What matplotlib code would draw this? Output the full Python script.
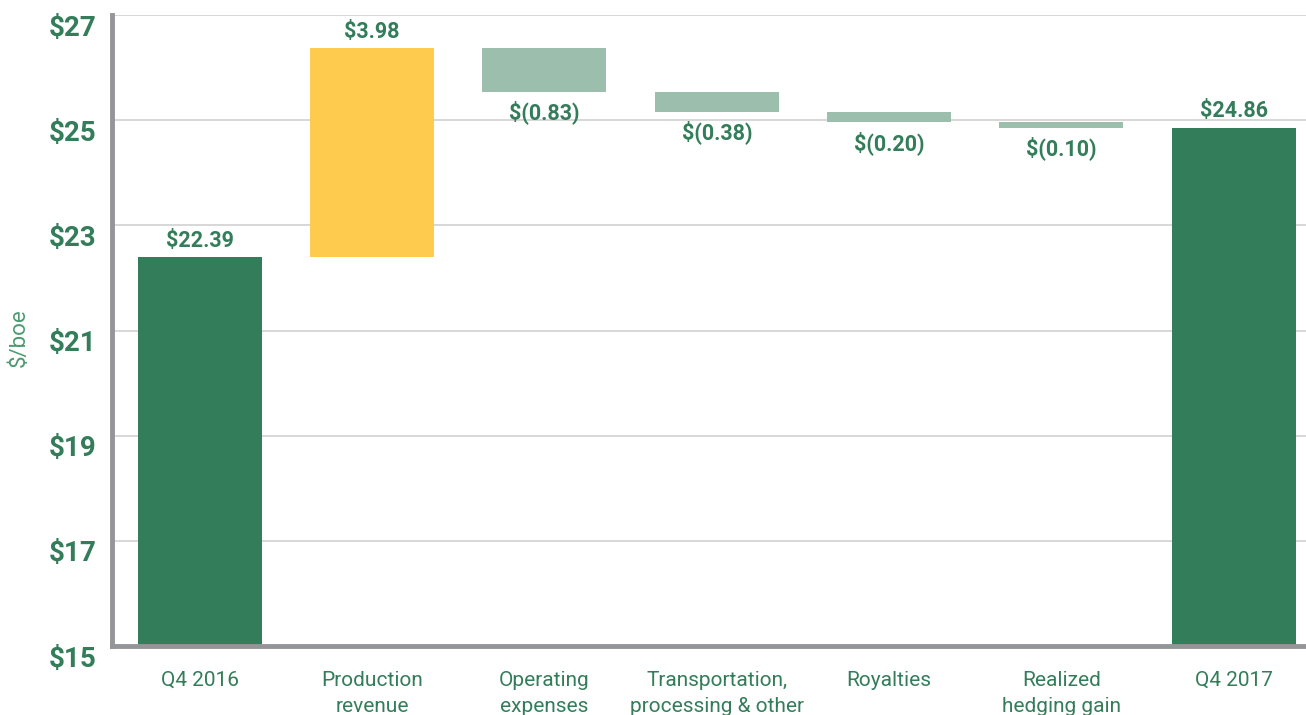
import matplotlib
matplotlib.use("Agg")
import matplotlib.pyplot as plt
from matplotlib.transforms import ScaledTranslation

categories = ["Q4 2016", "Production\nrevenue", "Operating\nexpenses",
              "Transportation,\nprocessing & other", "Royalties",
              "Realized\nhedging gain", "Q4 2017"]
start_value = 22.39
changes = [3.98, -0.83, -0.38, -0.20, -0.10]
end_value = 24.86
y_ticks = [15, 17, 19, 21, 23, 25, 27]
y_tick_labels = ["$15", "$17", "$19", "$21", "$23", "$25", "$27"]

DARK = "#347d5a"
LIGHT = "#9bbfac"
YELLOW = "#ffcb4f"
TEXT = "#347d5a"

plt.rcParams['font.family'] = ['Roboto', 'DejaVu Sans']

fig = plt.figure(figsize=(13.06, 7.15), dpi=100)
ax = fig.add_axes([112/1306, 1-646/715, 1-112/1306, (646-15)/715])

ymin = y_ticks[0]
width = 0.72
VFS = 15.5
# totals
ax.bar(0, start_value - ymin, bottom=ymin, width=width, color=DARK, zorder=3)
ax.bar(len(categories)-1, end_value - ymin, bottom=ymin, width=width, color=DARK, zorder=3)
ax.annotate(f"${start_value:.2f}", (0, start_value), xytext=(0, 4), textcoords="offset points",
            ha="center", va="bottom", fontsize=VFS, fontweight="bold", color=TEXT)
ax.annotate(f"${end_value:.2f}", (len(categories)-1, end_value), xytext=(0, 4), textcoords="offset points",
            ha="center", va="bottom", fontsize=VFS, fontweight="bold", color=TEXT)

level = start_value
for i, c in enumerate(changes, start=1):
    lo, hi = (level, level + c) if c >= 0 else (level + c, level)
    ax.bar(i, hi - lo, bottom=lo, width=width, color=YELLOW if c >= 0 else LIGHT, zorder=3)
    if c >= 0:
        ax.annotate(f"${c:.2f}", (i, hi), xytext=(0, 4), textcoords="offset points",
                    ha="center", va="bottom", fontsize=VFS, fontweight="bold", color=TEXT)
    else:
        ax.annotate(f"$({abs(c):.2f})", (i, lo), xytext=(0, -6), textcoords="offset points",
                    ha="center", va="top", fontsize=VFS, fontweight="bold", color=TEXT)
    level += c

ax.set_xlim(-0.51, 6.42)
ax.set_ylim(y_ticks[0], y_ticks[-1])
ax.set_yticks(y_ticks)
ax.set_yticklabels(y_tick_labels, fontsize=20, fontweight="bold", color=TEXT)
ax.set_xticks(range(len(categories)))
ax.set_xticklabels(categories, fontsize=15, color=TEXT, linespacing=1.45)
ax.tick_params(axis="both", length=0)
ax.tick_params(axis="y", pad=11)
ax.tick_params(axis="x", pad=18)
for lab in ax.get_yticklabels():
    lab.set_transform(lab.get_transform() + ScaledTranslation(0, -0.13, fig.dpi_scale_trans))
    lab.set_va("center")

ax.grid(axis="y", color="#d4d4d4", linewidth=1.3, zorder=0)
ax.set_axisbelow(True)
for s in ["top", "right"]:
    ax.spines[s].set_visible(False)
for s in ["left", "bottom"]:
    ax.spines[s].set_color("#939598")
    ax.spines[s].set_linewidth(3.5)
    ax.spines[s].set_zorder(4)

fig.text(19/1306, 1-338/715, "$/boe", rotation=90, ha="center", va="center",
         fontsize=16, color="#4f9a72")

fig.savefig("out.png", dpi=100)
